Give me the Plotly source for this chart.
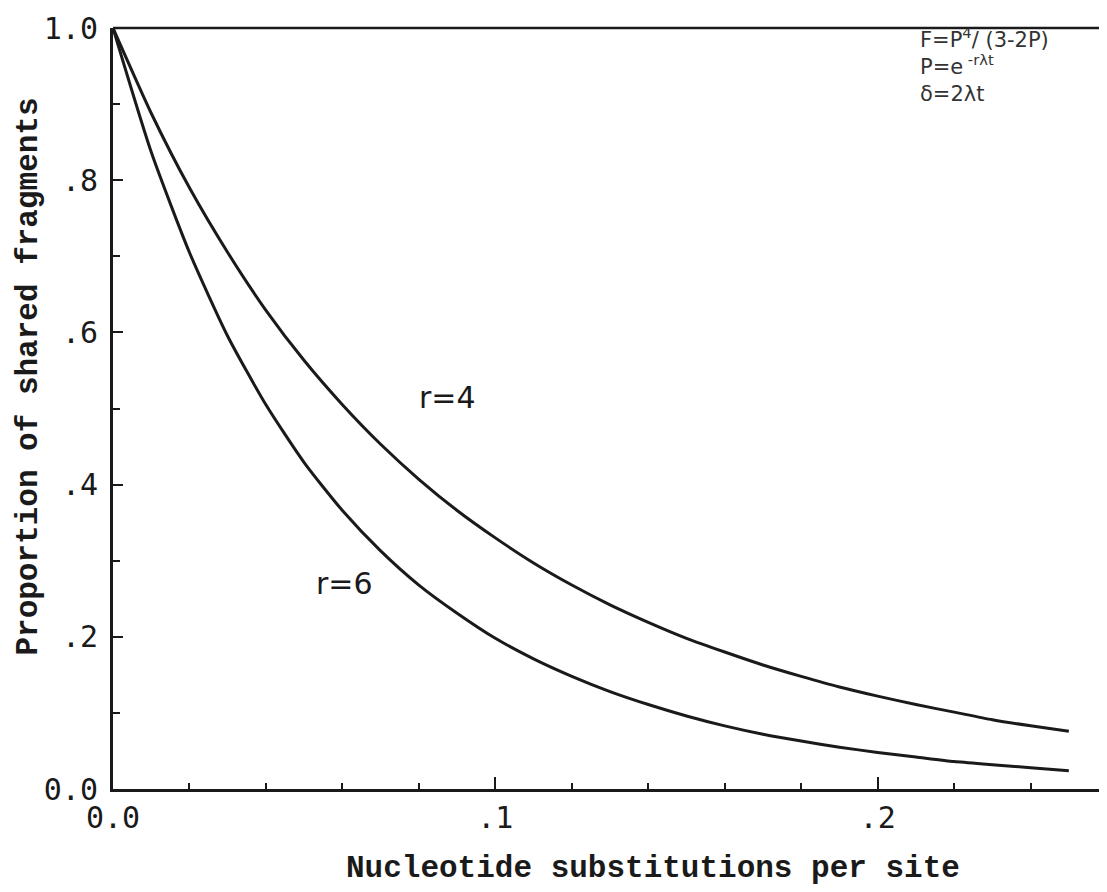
import plotly.graph_objects as go

# Values (x = nucleotide substitutions per site)
subst_per_site = [0.00, 0.01, 0.02, 0.03, 0.04, 0.05, 0.06, 0.07, 0.08, 0.09,
                  0.10, 0.11, 0.12, 0.13, 0.14, 0.15, 0.16, 0.17, 0.18, 0.19,
                  0.20, 0.21, 0.22, 0.23, 0.24, 0.25]
shared_r4 = [1.000, 0.888, 0.790, 0.705, 0.629, 0.563, 0.505, 0.453, 0.407, 0.366,
             0.330, 0.297, 0.268, 0.242, 0.219, 0.198, 0.180, 0.163, 0.148, 0.134,
             0.122, 0.111, 0.101, 0.091, 0.083, 0.076]
shared_r6 = [1.000, 0.837, 0.705, 0.595, 0.505, 0.429, 0.366, 0.313, 0.268, 0.231,
             0.198, 0.171, 0.148, 0.128, 0.111, 0.096, 0.083, 0.072, 0.063, 0.055,
             0.048, 0.042, 0.036, 0.032, 0.028, 0.024]

x_tick_vals = [0.0, 0.1, 0.2]
x_tick_text = ["0.0", ".1", ".2"]
y_tick_vals = [0.0, 0.2, 0.4, 0.6, 0.8, 1.0]
y_tick_text = ["0.0", ".2", ".4", ".6", ".8", "1.0"]

INK = "#1a1a1a"
TICK_FONT = dict(family="DejaVu Sans Mono", size=30, color=INK)
TITLE_FONT = dict(family="Liberation Mono", size=31, color=INK)

fig = go.Figure()

for ys in (shared_r4, shared_r6):
    fig.add_trace(go.Scatter(
        x=subst_per_site, y=ys,
        mode="lines",
        line=dict(color=INK, width=3, shape="spline", smoothing=0.6),
        showlegend=False,
        hoverinfo="skip",
    ))

# curve labels
fig.add_annotation(x=0.0875, y=0.515, text="r=4", showarrow=False,
                   font=dict(family="DejaVu Sans", size=30, color=INK))
fig.add_annotation(x=0.0605, y=0.27, text="r=6", showarrow=False,
                   font=dict(family="DejaVu Sans", size=30, color=INK))

# formula block, top right
fig.add_annotation(
    x=0.2105, y=1.0, xanchor="left", yanchor="top", align="left", yshift=6,
    text="F=P<sup>4</sup>/ (3-2P)<br>P=e<sup> -rλt</sup><br>δ=2λt",
    showarrow=False,
    font=dict(family="DejaVu Sans", size=21, color="#333333"),
)

# axis titles (sit off-centre in the original, so placed as annotations)
fig.add_annotation(
    xref="paper", yref="paper", x=0.545, y=0, yshift=-79,
    xanchor="center", yanchor="middle", showarrow=False,
    text="<b>Nucleotide substitutions per site</b>", font=TITLE_FONT,
)
fig.add_annotation(
    xref="paper", yref="paper", x=0, xshift=-84, y=0.542,
    xanchor="center", yanchor="middle", showarrow=False, textangle=-90,
    text="<b>Proportion of shared fragments</b>", font=TITLE_FONT,
)

# thinner top / right frame
fig.add_shape(type="line", xref="paper", yref="paper", x0=0, x1=1, y0=1, y1=1,
              line=dict(color=INK, width=2.5))
fig.add_shape(type="line", xref="paper", yref="paper", x0=1, x1=1, y0=0, y1=1,
              line=dict(color=INK, width=2.5))

# page body adds an 8px offset, margins compensate for it
fig.update_layout(
    width=1107, height=892,
    margin=dict(l=105, r=11, t=20, b=111, autoexpand=False),
    paper_bgcolor="white",
    plot_bgcolor="white",
    xaxis=dict(
        range=[0, 0.2592],
        automargin=False,
        tickvals=x_tick_vals, ticktext=x_tick_text,
        ticks="inside", ticklen=12, tickwidth=2, tickcolor=INK,
        minor=dict(tick0=0, dtick=0.02, ticks="inside", ticklen=6,
                   tickwidth=2, tickcolor=INK),
        showline=True, linewidth=3, linecolor=INK,
        showgrid=False, zeroline=False,
        tickfont=TICK_FONT,
    ),
    yaxis=dict(
        range=[0, 1.0],
        automargin=False,
        tickvals=y_tick_vals, ticktext=y_tick_text,
        ticks="inside", ticklen=10, tickwidth=2, tickcolor=INK,
        ticklabelstandoff=6,
        minor=dict(tick0=0, dtick=0.1, ticks="inside", ticklen=7,
                   tickwidth=2, tickcolor=INK),
        showline=True, linewidth=3, linecolor=INK,
        showgrid=False, zeroline=False,
        tickfont=TICK_FONT,
    ),
)

fig.write_html("out.html")
